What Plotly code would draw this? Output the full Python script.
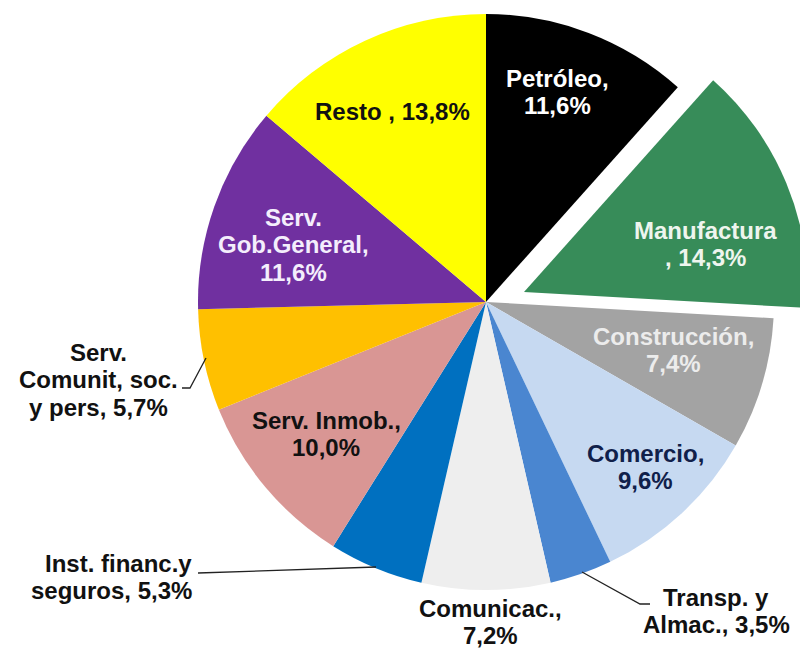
import plotly.graph_objects as go

# slice data, clockwise from 12 o'clock
sectores = ["Petróleo", "Manufactura", "Construcción", "Comercio", "Transp. y Almac.",
            "Comunicac.", "Inst. financ.y seguros", "Serv. Inmob.",
            "Serv. Comunit, soc. y pers", "Serv. Gob.General", "Resto"]
participacion = [11.6, 14.3, 7.4, 9.6, 3.5, 7.2, 5.3, 10.0, 5.7, 11.6, 13.8]
colores = ["#000000", "#378c59", "#a3a3a3", "#c6d9f1", "#4a86d0",
           "#eeeeee", "#0070c0", "#d99694", "#ffc000", "#7030a0", "#ffff00"]

# how each label is written on the chart (name part, separator before value)
nombre_etiqueta = ["Petróleo,", "Manufactura<br>,", "Construcción,", "Comercio,",
                   "Transp. y<br>Almac.,", "Comunicac.,", "Inst. financ.y<br>seguros,",
                   "Serv. Inmob.,", "Serv.<br>Comunit, soc.<br>y pers,",
                   "Serv.<br>Gob.General,", "Resto ,"]
separador = ["<br>", " ", "<br>", "<br>", " ", "<br>", " ", "<br>", " ", "<br>", " "]
color_texto = ["#ffffff", "#eef5ee", "#ececec", "#10204a", "#111111",
               "#111111", "#111111", "#111111", "#111111", "#f4eefc", "#111111"]
# label anchor (x) and first-line y in page pixels, plus alignment
pos_etiqueta = [(557, 78), (705, 230), (673, 336), (645, 453), (716, 597),
                (490, 608), (194, 563), (326, 420), (98, 352), (293, 217), (392, 112)]
alineacion = ["center", "center", "center", "center", "center",
              "center", "right", "center", "center", "center", "center"]

W, H = 808, 648
OFF = 8                       # page body margin
FW, FH = W - OFF, H - OFF     # figure size
LINE = 27.5                   # line spacing of labels, px
pulled = "Manufactura"


def fx(px):
    return (px - OFF) / FW


def fy(py):
    return 1 - (py - OFF) / FH


def pct(v):
    return f"{v:.1f}".replace(".", ",") + "%"


fig = go.Figure()

# main pie (pulled slice left transparent), centre (486, 302) r=288 on the page
fig.add_trace(go.Pie(
    labels=sectores, values=participacion, sort=False, direction="clockwise", rotation=0,
    marker=dict(colors=[("rgba(0,0,0,0)" if s == pulled else c) for s, c in zip(sectores, colores)],
                line=dict(width=0)),
    textinfo="none", hoverinfo="label+value", showlegend=False,
    domain=dict(x=[fx(198), fx(774)], y=[fy(590), fy(14)]),
))

# pulled-out Manufactura slice, same pie shifted outward
fig.add_trace(go.Pie(
    labels=sectores, values=participacion, sort=False, direction="clockwise", rotation=0,
    marker=dict(colors=[(c if s == pulled else "rgba(0,0,0,0)") for s, c in zip(sectores, colores)],
                line=dict(width=0)),
    textinfo="none", hoverinfo="label+value", showlegend=False,
    domain=dict(x=[fx(240), 1.0], y=[fy(576), 1.0]),
))

for nom, sep, v, col, (px, py), al in zip(nombre_etiqueta, separador, participacion,
                                           color_texto, pos_etiqueta, alineacion):
    lineas_txt = f"{nom}{sep}{pct(v)}".split("<br>")
    for i, t in enumerate(lineas_txt):
        fig.add_annotation(
            x=fx(px), y=fy(py + i * LINE), xref="paper", yref="paper",
            text=f"<b>{t}</b>", showarrow=False,
            xanchor="right" if al == "right" else "center", yanchor="middle",
            font=dict(family="Liberation Sans, Arial, sans-serif", size=24, color=col),
        )

# leader lines for the outside labels
lineas = [
    [(182, 388), (190, 388), (206, 358)],
    [(198, 573), (376, 567)],
    [(582, 572), (640, 604), (650, 604)],
]
for pts in lineas:
    path = "M " + " L ".join(f"{fx(x)},{fy(y)}" for x, y in pts)
    fig.add_shape(type="path", path=path, xref="paper", yref="paper",
                  line=dict(color="#222222", width=1.3))

fig.update_layout(
    width=FW, height=FH,
    margin=dict(l=0, r=0, t=0, b=0),
    paper_bgcolor="white", plot_bgcolor="white",
)

fig.write_html("out.html")
